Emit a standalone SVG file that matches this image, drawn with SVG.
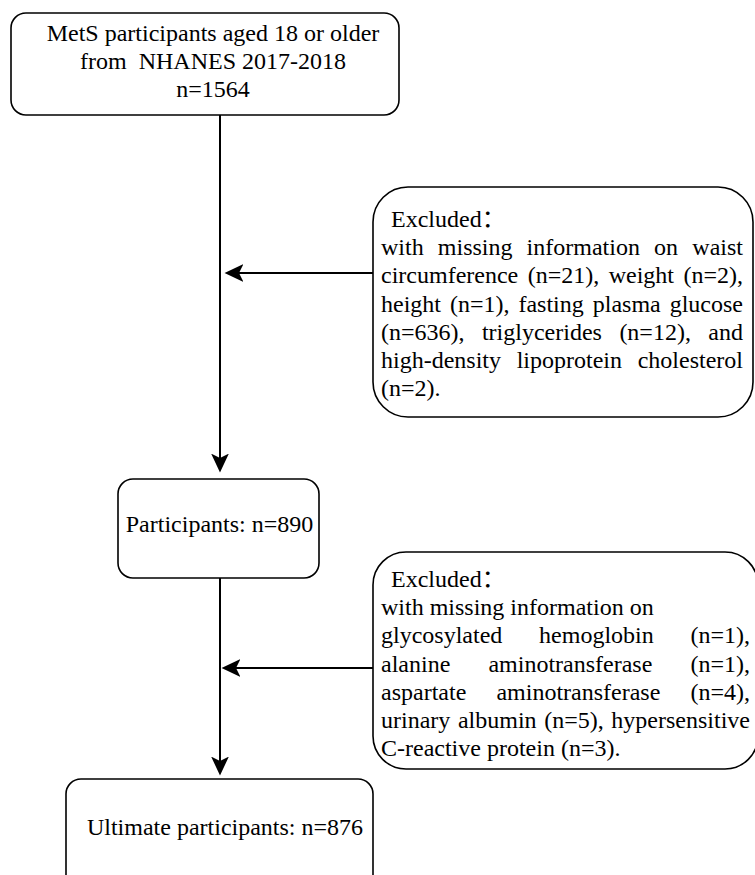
<svg xmlns="http://www.w3.org/2000/svg" width="755" height="875" viewBox="0 0 755 875">
<style>
.box{fill:#fff;stroke:#000;stroke-width:1.6}
.t{font-family:"Liberation Serif","Noto Sans CJK SC",serif;font-size:24px;fill:#000;white-space:pre}
.c{text-anchor:middle}
.e{text-anchor:end}
.ln{stroke:#000;stroke-width:2;fill:none}
</style>
<defs>
<marker id="ah" markerUnits="userSpaceOnUse" markerWidth="20" markerHeight="20" viewBox="0 0 18 18" refX="13" refY="8" orient="auto">
<path d="M0,0 L17,8 L0,16 L4,8 Z" fill="#000"/>
</marker>
</defs>
<g id="connectors">
<line class="ln" x1="220" y1="115" x2="220" y2="468" marker-end="url(#ah)"/>
<line class="ln" x1="374" y1="273" x2="229" y2="273" marker-end="url(#ah)"/>
<line class="ln" x1="220" y1="578" x2="220" y2="771" marker-end="url(#ah)"/>
<line class="ln" x1="373" y1="668" x2="226" y2="668" marker-end="url(#ah)"/>
</g>
<g id="start">
<rect class="box" x="11" y="13" width="388" height="102" rx="15"/>
<text class="t c" x="213" y="41">MetS participants aged 18 or older</text>
<text class="t c" x="213" y="69">from  NHANES 2017-2018</text>
<text class="t c" x="213" y="97">n=1564</text>
</g>
<g id="excluded1">
<rect class="box" x="373" y="187" width="380" height="230" rx="35"/>
<text class="t" x="391" y="227">Excluded：</text>
<text class="t" y="255"><tspan x="381">with</tspan><tspan x="437.8">missing</tspan><tspan x="526.6">information</tspan><tspan x="654.1">on</tspan><tspan x="692.3">waist</tspan></text>
<text class="t" y="283"><tspan x="381">circumference</tspan><tspan x="527.7">(n=21),</tspan><tspan x="608.7">weight</tspan><tspan x="683.5">(n=2),</tspan></text>
<text class="t" y="312"><tspan x="381">height</tspan><tspan x="449.96">(n=1),</tspan><tspan x="518.44">fasting</tspan><tspan x="592.73">plasma</tspan><tspan x="669.68">glucose</tspan></text>
<text class="t" y="340"><tspan x="381">(n=636),</tspan><tspan x="481.96">triglycerides</tspan><tspan x="619.38">(n=12),</tspan><tspan x="708.34">and</tspan></text>
<text class="t" y="368"><tspan x="381">high-density</tspan><tspan x="516.68">lipoprotein</tspan><tspan x="637.7">cholesterol</tspan></text>
<text class="t" x="381" y="396">(n=2).</text>
</g>
<g id="participants">
<rect class="box" x="118" y="479" width="201" height="99" rx="15"/>
<text class="t c" x="219.5" y="532">Participants: n=890</text>
</g>
<g id="excluded2">
<rect class="box" x="373" y="552" width="385" height="217" rx="33"/>
<text class="t" x="391" y="587">Excluded：</text>
<text class="t" x="381" y="615">with missing information on</text>
<text class="t" y="643"><tspan x="381">glycosylated</tspan><tspan x="539.07">hemoglobin</tspan><tspan x="690.49">(n=1),</tspan></text>
<text class="t" y="672"><tspan x="381">alanine</tspan><tspan x="488.42">aminotransferase</tspan><tspan x="690.47">(n=1),</tspan></text>
<text class="t" y="700"><tspan x="381">aspartate</tspan><tspan x="496.42">aminotransferase</tspan><tspan x="690.48">(n=4),</tspan></text>
<text class="t" y="728"><tspan x="381">urinary</tspan><tspan x="457.93">albumin</tspan><tspan x="544.22">(n=5),</tspan><tspan x="611.36">hypersensitive</tspan></text>
<text class="t" x="381" y="756">C-reactive protein (n=3).</text>
</g>
<g id="ultimate">
<rect class="box" x="66" y="779" width="307" height="130" rx="15"/>
<text class="t c" x="225" y="835">Ultimate participants: n=876</text>
</g>
</svg>
